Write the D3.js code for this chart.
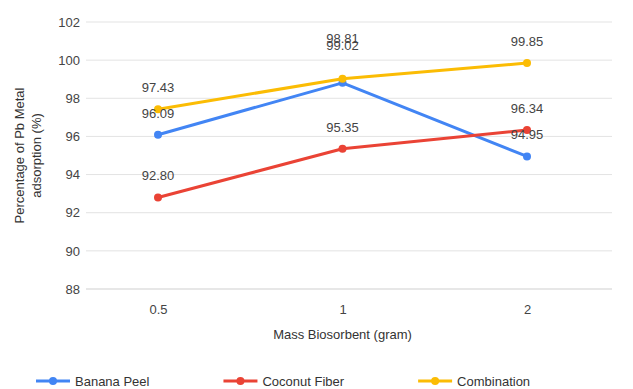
<!DOCTYPE html>
<html>
<head>
<meta charset="utf-8">
<script src="https://cdn.jsdelivr.net/npm/d3@7"></script>
<style>
  html, body { margin: 0; padding: 0; background: #fff; }
  svg { display: block; font-family: "Liberation Sans", Arial, sans-serif; }
</style>
</head>
<body>
<svg id="chart" width="633" height="389"></svg>
<script>
// Mass of biosorbent (gram) on the x axis
const categories = ["0.5", "1", "2"];
const seriesNames = ["Banana Peel", "Coconut Fiber", "Combination"];
const bananaPeel = [96.09, 98.81, 94.95];
const coconutFiber = [92.80, 95.35, 96.34];
const combination = [97.43, 99.02, 99.85];
const yTicks = [88, 90, 92, 94, 96, 98, 100, 102];
const colors = ["#4285F4", "#EA4335", "#FBBC04"];

const seriesValues = [bananaPeel, coconutFiber, combination];
const series = seriesNames.map((name, i) => ({
  name, color: colors[i],
  points: categories.map((c, j) => ({ c, v: seriesValues[i][j] }))
}));

const svg = d3.select("#chart");
const W = 633, H = 389;
const plot = { left: 86, right: 612, top: 22, bottom: 289 };

const x = d3.scalePoint().domain(categories).range([158, 527]);
const y = d3.scaleLinear().domain([88, 102]).range([plot.bottom, plot.top]);

// Horizontal gridlines
svg.append("g").selectAll("line").data(yTicks).join("line")
  .attr("x1", plot.left).attr("x2", plot.right)
  .attr("y1", d => y(d)).attr("y2", d => y(d))
  .attr("stroke", d => d === 88 ? "#cfcfcf" : "#e3e3e3")
  .attr("stroke-width", 1);

// Y axis tick labels
const yAxis = d3.axisLeft(y).tickValues(yTicks).tickSize(0).tickPadding(0);
svg.append("g").attr("transform", `translate(${plot.left - 6},0)`).call(yAxis)
  .call(g => g.select(".domain").remove())
  .call(g => g.selectAll("text").attr("fill", "#444").attr("font-size", 13)
    .attr("font-family", "Liberation Sans, Arial, sans-serif"));

// X axis tick labels
const xAxis = d3.axisBottom(x).tickSize(0).tickPadding(0);
svg.append("g").attr("transform", `translate(0,${plot.bottom + 16})`).call(xAxis)
  .call(g => g.select(".domain").remove())
  .call(g => g.selectAll("text").attr("fill", "#444").attr("font-size", 13)
    .attr("font-family", "Liberation Sans, Arial, sans-serif"));

// Axis titles
svg.append("text")
  .attr("x", x("1")).attr("y", 339)
  .attr("text-anchor", "middle").attr("font-size", 13).attr("fill", "#333")
  .text("Mass Biosorbent (gram)");

const yTitle = svg.append("text")
  .attr("transform", `translate(0,${(plot.top + plot.bottom) / 2}) rotate(-90)`)
  .attr("text-anchor", "middle").attr("font-size", 13).attr("fill", "#333");
yTitle.append("tspan").attr("x", 0).attr("y", 24).text("Percentage of Pb Metal");
yTitle.append("tspan").attr("x", 0).attr("y", 41).text("adsorption (%)");

// Lines and points
const line = d3.line().x(d => x(d.c)).y(d => y(d.v));
const gSeries = svg.append("g");
series.forEach(s => {
  gSeries.append("path").datum(s.points)
    .attr("fill", "none").attr("stroke", s.color).attr("stroke-width", 3)
    .attr("stroke-linejoin", "round").attr("d", line);
  gSeries.selectAll(null).data(s.points).join("circle")
    .attr("cx", d => x(d.c)).attr("cy", d => y(d.v)).attr("r", 4)
    .attr("fill", s.color);
});

// Data labels above each point; labels that collide at one category are lifted
// clear of the lines and stacked slightly apart
const labels = [];
series.forEach((s, i) => s.points.forEach(p => labels.push({ i, c: p.c, v: p.v, ly: y(p.v) - 17 })));
categories.forEach(c => {
  const group = labels.filter(l => l.c === c).sort((a, b) => a.ly - b.ly);
  for (let k = 1; k < group.length; k++) {
    const a = group[k - 1], b = group[k];
    if (b.ly - a.ly < 8) {
      a.ly -= 12;
      b.ly = a.ly - 7;
    }
  }
});
svg.append("g").selectAll("text").data(labels).join("text")
  .attr("x", d => x(d.c)).attr("y", d => d.ly)
  .attr("text-anchor", "middle").attr("font-size", 13).attr("fill", "#444")
  .text(d => d.v.toFixed(2));

// Legend
const legend = svg.append("g");
const itemGap = 74;
let lx = 0;
series.forEach(s => {
  const g = legend.append("g").attr("transform", `translate(${lx},0)`);
  g.append("line").attr("x1", 0).attr("x2", 34).attr("y1", 0).attr("y2", 0)
    .attr("stroke", s.color).attr("stroke-width", 3);
  g.append("circle").attr("cx", 17).attr("cy", 0).attr("r", 4).attr("fill", s.color);
  const t = g.append("text").attr("x", 39).attr("y", 4.5).attr("font-size", 13)
    .attr("fill", "#333").text(s.name);
  lx += 39 + t.node().getComputedTextLength() + itemGap;
});
legend.attr("transform", `translate(36,381)`);
</script>
</body>
</html>
